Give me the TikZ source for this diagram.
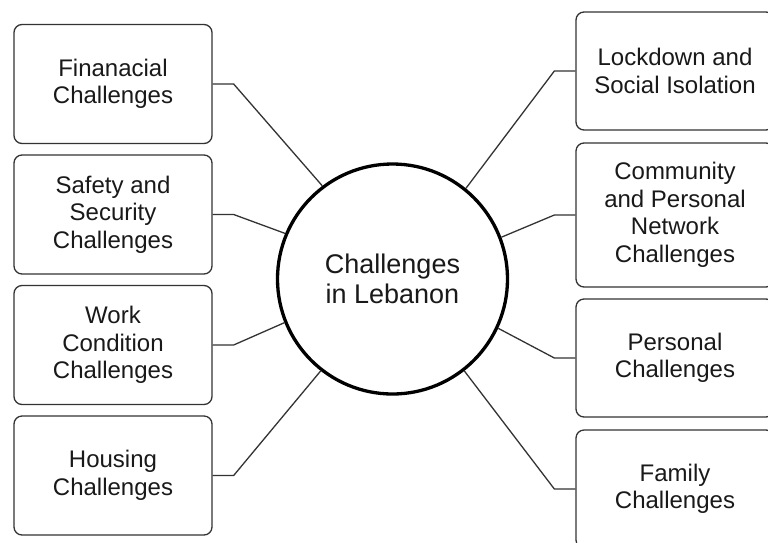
\documentclass[tikz,border=0pt]{standalone}
\usepackage{fontspec}
\setmainfont{Liberation Sans}
\begin{document}
\begin{tikzpicture}[x=1pt,y=-1pt,
  box/.style={draw=black!80, line width=1.3pt, rounded corners=8pt, minimum width=198pt, minimum height=119pt, align=center, inner sep=2pt, text=black!90, font=\fontsize{24}{27.5}\selectfont},
  hub/.style={circle, draw=black, line width=3.3pt, minimum size=230pt, align=center, text=black!90, font=\fontsize{27}{30.5}\selectfont},
  link/.style={draw=black!80, line width=1.3pt}]
\clip (0,0) rectangle (768,542);
\fill[white] (0,0) rectangle (768,542);
\node[hub] (c) at (392.5,279) {Challenges\\in Lebanon};
\node[box] (l1) at (113,84) {Finanacial\\Challenges};
\node[box] (l2) at (113,214.5) {Safety and\\Security\\Challenges};
\node[box] (l3) at (113,345) {Work\\Condition\\Challenges};
\node[box] (l4) at (113,475.5) {Housing\\Challenges};
\node[box, minimum height=118pt] (r1) at (675,71) {Lockdown and\\Social Isolation};
\node[box, minimum height=144pt] (r2) at (675,215) {Community\\and Personal\\Network\\Challenges};
\node[box, minimum height=118pt] (r3) at (675,358) {Personal\\Challenges};
\node[box, minimum height=118pt] (r4) at (675,489) {Family\\Challenges};
\draw[link] (c.127.6) -- ([xshift=21pt]l1.east) -- (l1.east);
\draw[link] (c.157.4) -- ([xshift=21pt]l2.east) -- (l2.east);
\draw[link] (c.202.9) -- ([xshift=21pt]l3.east) -- (l3.east);
\draw[link] (c.232.4) -- ([xshift=21pt]l4.east) -- (l4.east);
\draw[link] (c.51.4) -- ([xshift=-21pt]r1.west) -- (r1.west);
\draw[link] (c.21.9) -- ([xshift=-21pt]r2.west) -- (r2.west);
\draw[link] (c.-25.6) -- ([xshift=-21pt]r3.west) -- (r3.west);
\draw[link] (c.-52) -- ([xshift=-21pt]r4.west) -- (r4.west);
\end{tikzpicture}
\end{document}
